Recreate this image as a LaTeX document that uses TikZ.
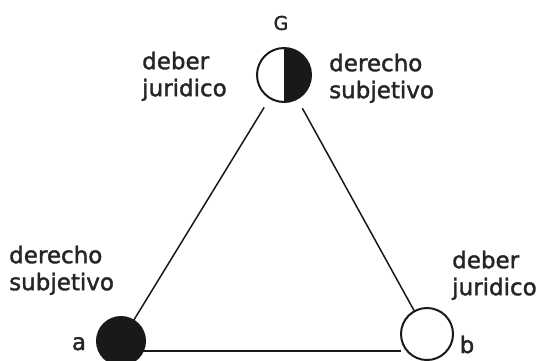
\documentclass[tikz,border=0pt]{standalone}
\usepackage{fontspec}
\setmainfont{DejaVu Sans}
\newfontfamily\lblfont[FakeBold=1.6]{DejaVu Sans}
\begin{document}
\begin{tikzpicture}[x=1pt,y=-1pt,
  lbl/.style={font=\lblfont\fontsize{23}{27}\selectfont, align=left, anchor=north west, inner sep=0pt, text=black!85},
  letter/.style={font=\lblfont\fontsize{23}{27}\selectfont, anchor=base, inner sep=0pt, text=black!85},
  ring/.style={circle, draw=black!90, line width=2pt, inner sep=0pt, outer sep=0pt, minimum size=#1},
  link/.style={line width=1.5pt, draw=black!90}]
\useasboundingbox[fill=white] (0,0) rectangle (540,360);
% labels
\node[font=\lblfont\fontsize{19}{22}\selectfont, inner sep=0pt, text=black!85] (gl) at (281,23) {G};
\node[lbl] (tl) at (142,51.5) {deber\\juridico};
\node[lbl] (tr) at (329,53.5) {derecho\\subjetivo};
\node[lbl] (bl) at (9,245.5) {derecho\\subjetivo};
\node[lbl] (br) at (452,250.5) {deber\\juridico};
\node[letter] (la) at (79,350) {a};
\node[letter] (lb) at (467,353) {b};
% circles
\node[ring=54, fill=white] (G) at (284,75) {};
\fill[black!90] (G.north) arc[start angle=90, end angle=-90, radius=27pt] -- cycle;
\node[ring=48, fill=black!90] (a) at (121,341) {};
\node[ring=52, fill=white] (b) at (427,334) {};
% connectors
\draw[link, shorten <=11pt] (G) -- (a);
\draw[link, shorten <=11pt] (G) -- (b);
\draw[link] (a.-25) -- (a.-25 -| b.west);
\end{tikzpicture}
\end{document}
